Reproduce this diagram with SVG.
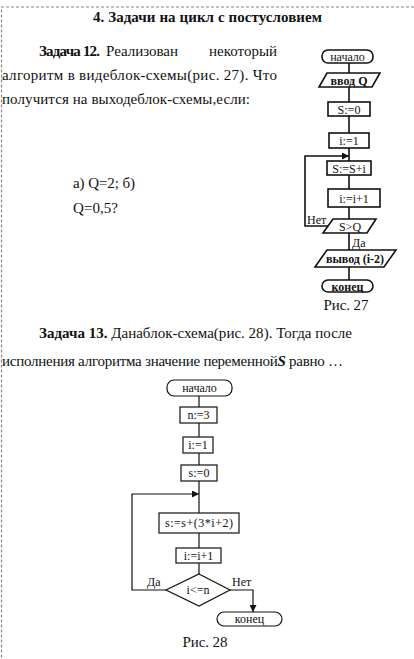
<svg xmlns="http://www.w3.org/2000/svg" width="414" height="659" viewBox="0 0 414 659" font-family="'Liberation Serif','DejaVu Serif',serif">
<style>
text{font-family:"Liberation Serif","Times New Roman","DejaVu Serif",serif;fill:#111}
.body{font-size:15px}
.b{font-weight:bold}
.lbl{font-size:12px;text-anchor:middle}
.lb{font-size:12px;text-anchor:middle;font-weight:bold}
.sm{font-size:12px}
.s27{fill:#fff;stroke:#111;stroke-width:1.6}
.s28{fill:#fff;stroke:#111;stroke-width:1.2}
.c27{fill:none;stroke:#111;stroke-width:1.6}
.c28{fill:none;stroke:#111;stroke-width:1.2}
.border{fill:none;stroke:#888;stroke-width:1.2;stroke-dasharray:3,2}
</style>
<defs>
<marker id="ar" viewBox="0 0 10 10" refX="10" refY="5" markerWidth="7" markerHeight="7" markerUnits="userSpaceOnUse" orient="auto">
<path d="M0,0 L10,5 L0,10 z" fill="#111"/>
</marker>
</defs>
<rect width="414" height="659" fill="#fff"/>
<path class="border" d="M414,7 H1.5 V659"/>

<g id="text">
<text class="body b" x="207.5" y="22" text-anchor="middle" textLength="229">4. Задачи на цикл с постусловием</text>
<text class="body b" x="39" y="56" textLength="61">Задача 12.</text>
<text class="body" x="106" y="56" textLength="72">Реализован</text>
<text class="body" x="277" y="56" text-anchor="end">некоторый</text>
<text class="body" x="2" y="80" textLength="275">алгоритм в видеблок-схемы(рис. 27). Что</text>
<text class="body" x="2" y="104" textLength="248">получится на выходеблок-схемы,если:</text>
<text class="body" x="73" y="188" textLength="62">а) Q=2; б)</text>
<text class="body" x="73" y="213" textLength="45">Q=0,5?</text>
<text class="body" x="39" y="338" textLength="313"><tspan class="b">Задача 13.</tspan> Данаблок-схема(рис. 28). Тогда после</text>
<text class="body" x="2" y="366" textLength="341">исполнения алгоритма значение переменной<tspan font-weight="bold" font-style="italic">S</tspan> равно …</text>
<text class="body" x="346" y="310" text-anchor="middle" textLength="45">Рис. 27</text>
<text class="body" x="205" y="647" text-anchor="middle" textLength="45">Рис. 28</text>
</g>

<g id="connectors27">
<path class="c27" d="M349,63 V73 M349,87 V102 M349,116 V133 M349,148 V161 M349,175 V189 M349,207 V219 M349,233 V250 M349,267 V280"/>
<path class="c27" d="M328,226 H305 V156 H349" marker-end="url(#ar)"/>
</g>
<g id="n27_start"><rect class="s27" x="322" y="50" width="51" height="13" rx="6"/><text class="lbl" x="347.5" y="60.5">начало</text></g>
<g id="n27_input"><polygon class="s27" points="327,73 380,73 372,87 319,87"/><text class="lb" x="349" y="84.5">ввод Q</text></g>
<g id="n27_s0"><rect class="s27" x="328" y="102" width="42" height="14"/><text class="lbl" x="349" y="113.5">S:=0</text></g>
<g id="n27_i1"><rect class="s27" x="329" y="133" width="40" height="15"/><text class="lbl" x="349" y="145">i:=1</text></g>
<g id="n27_sum"><rect class="s27" x="327" y="161" width="44" height="14"/><text class="lbl" x="349" y="172.5">S:=S+i</text></g>
<g id="n27_inc"><rect class="s27" x="328" y="189" width="52" height="18"/><text class="lbl" x="354" y="202.5">i:=i+1</text></g>
<g id="n27_cond"><polygon class="s27" points="333,219 376,219 367,233 323,233"/><text class="lbl" x="350" y="230.5">S&gt;Q</text>
<text class="sm" x="307" y="224">Нет</text><text class="sm" x="352" y="247">Да</text></g>
<g id="n27_output"><polygon class="s27" points="327,250 396,250 384,267 315,267"/><text class="lb" x="355" y="262.5" textLength="58">вывод (i-2)</text></g>
<g id="n27_end"><rect class="s27" x="322" y="280" width="51" height="12" rx="6"/><text class="lb" x="347.5" y="290.5">конец</text></g>

<g id="connectors28">
<path class="c28" d="M199,396 V407 M199,423 V437 M199,453 V465 M199,481 V513 M199,533 V548 M199,563 V574"/>
<path class="c28" d="M166,590 H132 V494 H199" marker-end="url(#ar)"/>
<path class="c28" d="M230,590 H253 V612" marker-end="url(#ar)"/>
</g>
<g id="n28_start"><rect class="s28" x="167" y="380" width="65" height="16" rx="7"/><text class="lbl" x="199.5" y="392">начало</text></g>
<g id="n28_n3"><rect class="s28" x="180" y="407" width="37" height="16"/><text class="lbl" x="198.5" y="419">n:=3</text></g>
<g id="n28_i1"><rect class="s28" x="183" y="437" width="30" height="16"/><text class="lbl" x="198" y="449">i:=1</text></g>
<g id="n28_s0"><rect class="s28" x="181" y="465" width="36" height="16"/><text class="lbl" x="199" y="477">s:=0</text></g>
<g id="n28_sum"><rect class="s28" x="159" y="513" width="80" height="20"/><text class="lbl" x="199" y="527" textLength="68">s:=s+(3*i+2)</text></g>
<g id="n28_inc"><rect class="s28" x="176" y="548" width="45" height="15"/><text class="lbl" x="198.5" y="560">i:=i+1</text></g>
<g id="n28_cond"><polygon class="s28" points="199,574 230,590 199,606 166,590"/><text class="lbl" x="198" y="594">i&lt;=n</text>
<text class="sm" x="147" y="586">Да</text><text class="sm" x="232" y="586">Нет</text></g>
<g id="n28_end"><rect class="s28" x="217" y="612" width="65" height="14" rx="7"/><text class="lbl" x="249.5" y="623">конец</text></g>
</svg>
